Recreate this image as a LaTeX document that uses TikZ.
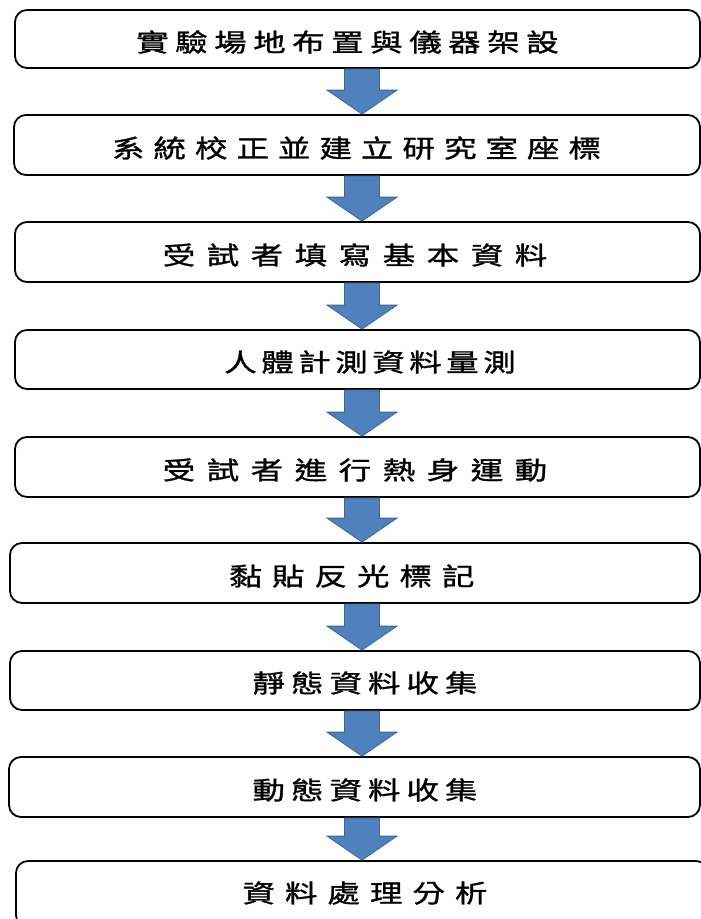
\documentclass[tikz,border=0pt]{standalone}
\usepackage{fontspec}
\newfontfamily\cjk[FakeStretch=1.3,FakeBold=1.2]{Noto Sans CJK TC}
\definecolor{arrowfill}{HTML}{4F81BD}
\definecolor{arrowline}{HTML}{3B6699}
\newcommand\spaced[2]{\def\lsp{#1}\spacedaux#2\relax}
\def\spacedaux#1{\ifx#1\relax\else#1\expandafter\spacedsep\fi}
\def\spacedsep#1{\ifx#1\relax\else\hspace{\lsp}#1\expandafter\spacedsep\fi}
\tikzset{
  stepbox/.style={draw=black, line width=1.8pt, rounded corners=12pt, fill=white, inner sep=0pt},
  steptext/.style={font=\cjk\fontsize{25pt}{28pt}\selectfont, inner sep=0pt, anchor=center},
  barrow/.style={fill=arrowfill, draw=arrowline, line width=0.8pt, line join=miter}
}
\newcommand\flowarrow[2]{%
  \coordinate (s-#1) at (362,0 |- #1.south);
  \coordinate (e-#1) at (362,0 |- #2.north);
  \filldraw[barrow] ([xshift=-17.5pt]s-#1) -- ([xshift=17.5pt]s-#1)
    -- ([xshift=17.5pt,yshift=24pt]e-#1) -- ([xshift=35pt,yshift=24pt]e-#1)
    -- (e-#1) -- ([xshift=-35pt,yshift=24pt]e-#1)
    -- ([xshift=-17.5pt,yshift=24pt]e-#1) -- cycle;}
\begin{document}
\begin{tikzpicture}[x=1pt,y=-1pt]
\useasboundingbox (0,0) rectangle (701,919);
\clip (0,0) rectangle (701,919);
\fill[white] (0,0) rectangle (701,919);
% boxes
\node[stepbox, minimum width=685pt, minimum height=58pt] (b1) at (357.5,39) {};
\node[stepbox, minimum width=686pt, minimum height=60pt] (b2) at (357,145) {};
\node[stepbox, minimum width=685pt, minimum height=60pt] (b3) at (357.5,252) {};
\node[stepbox, minimum width=685pt, minimum height=59pt] (b4) at (357.5,359.5) {};
\node[stepbox, minimum width=685pt, minimum height=60pt] (b5) at (357.5,467) {};
\node[stepbox, minimum width=690pt, minimum height=60pt] (b6) at (355,573) {};
\node[stepbox, minimum width=690pt, minimum height=59pt] (b7) at (355,680.5) {};
\node[stepbox, minimum width=691pt, minimum height=60pt] (b8) at (354.5,787) {};
\node[stepbox, minimum width=692pt, minimum height=66pt] (b9) at (362,894) {};
% arrows
\flowarrow{b1}{b2}
\flowarrow{b2}{b3}
\flowarrow{b3}{b4}
\flowarrow{b4}{b5}
\flowarrow{b5}{b6}
\flowarrow{b6}{b7}
\flowarrow{b7}{b8}
\flowarrow{b8}{b9}
% texts
\node[steptext] (t1) at (347.5,42) {\spaced{6.5pt}{實驗場地布置與儀器架設}};
\node[steptext] (t2) at (356.5,148) {\spaced{9pt}{系統校正並建立研究室座標}};
\node[steptext] (t3) at (355,255) {\spaced{11.5pt}{受試者填寫基本資料}};
\node[steptext] (t4) at (370,362) {\spaced{4.5pt}{人體計測資料量測}};
\node[steptext] (t5) at (355,470) {\spaced{11.5pt}{受試者進行熱身運動}};
\node[steptext] (t6) at (352,576) {\spaced{10pt}{黏貼反光標記}};
\node[steptext] (t7) at (365,683) {\spaced{6pt}{靜態資料收集}};
\node[steptext] (t8) at (365,790) {\spaced{6pt}{動態資料收集}};
\node[steptext] (t9) at (365,893) {\spaced{10pt}{資料處理分析}};
\end{tikzpicture}
\end{document}
